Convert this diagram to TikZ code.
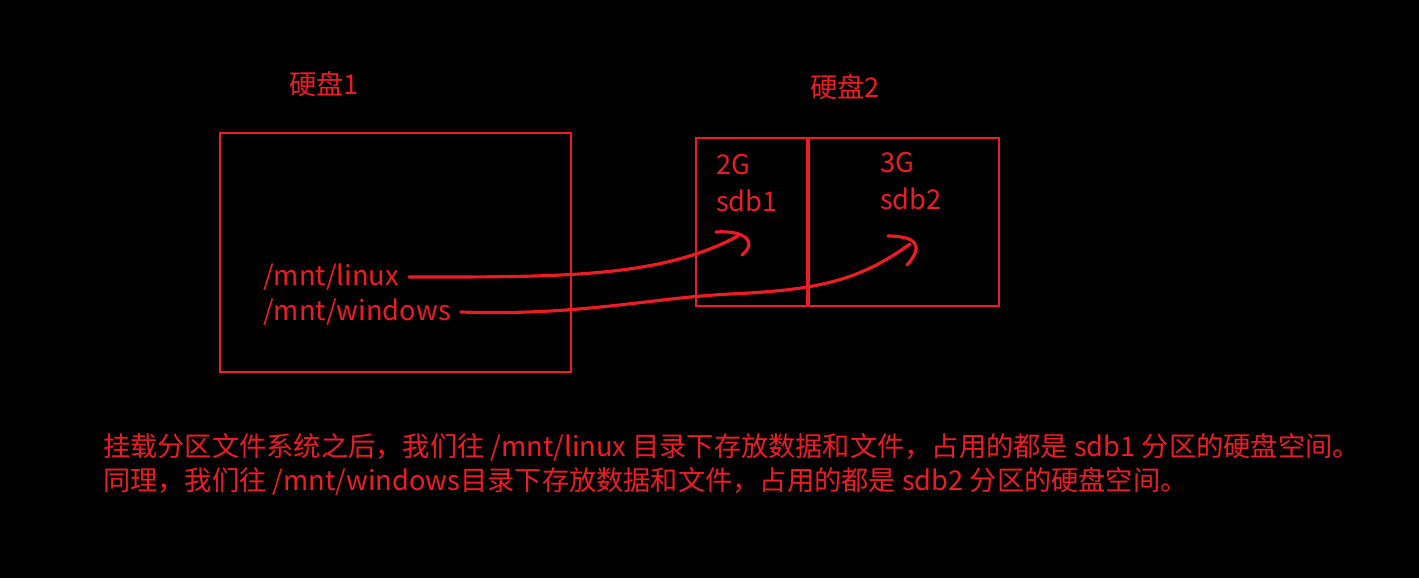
\documentclass[tikz,border=0pt]{standalone}
\usepackage{fontspec}
\setmainfont{Noto Sans CJK SC}
\definecolor{penred}{RGB}{237,28,36}
\begin{document}
\begin{tikzpicture}[x = 0.02cm, y = -0.02cm, line width = 1.4pt]

\tikzset{
  lbl/.style = {text = penred, font = \fontsize{15.5}{18}\selectfont, inner sep = 0pt, anchor = west},
  disk/.style = {draw = penred, line width = 1.3pt},
  hand/.style = {draw = penred, line width = 1.8pt, line cap = round}
}

\fill[black] (0,0) rectangle (1419,578);

% disk 1
\draw[disk] (220,133) rectangle (571,372);
\node[lbl, anchor = center] (d1) at (324,84) {硬盘1};
\node[lbl] (linux) at (262,277) {/mnt/linux};
\node[lbl] (win) at (262,312) {/mnt/windows};

% disk 2
\draw[disk] (696,138) rectangle (999,306);
\draw[disk, line width = 2.6pt] (808,138) -- (808,306);
\node[lbl, anchor = center] (d2) at (845,87) {硬盘2};
\node[lbl] (g2) at (715,165) {2G};
\node[lbl] (sdb1) at (715,201) {sdb1};
\node[lbl] (g3) at (879,163) {3G};
\node[lbl] (sdb2) at (879,199) {sdb2};

\coordinate (e1) at (738,236);
\coordinate (e2) at (910,244);

\draw[hand] ([xshift = 5pt]linux.east) .. controls (560,277) and (660,278) .. (e1);
\draw[hand] (716,232) .. controls (745,230) and (758,242) .. (742,255);
\draw[hand] ([xshift = 5pt]win.east) .. controls (580,316) and (650,298) .. (730,294)
  .. controls (820,290) and (860,280) .. (e2);
\draw[hand] (888,236) .. controls (915,236) and (925,245) .. (907,265);

\node[lbl] (t1) at (102,447) {挂载分区文件系统之后，我们往 /mnt/linux 目录下存放数据和文件，占用的都是 sdb1 分区的硬盘空间。};
\node[lbl] (t2) at (102,481) {同理，我们往 /mnt/windows目录下存放数据和文件，占用的都是 sdb2 分区的硬盘空间。};

\end{tikzpicture}
\end{document}
